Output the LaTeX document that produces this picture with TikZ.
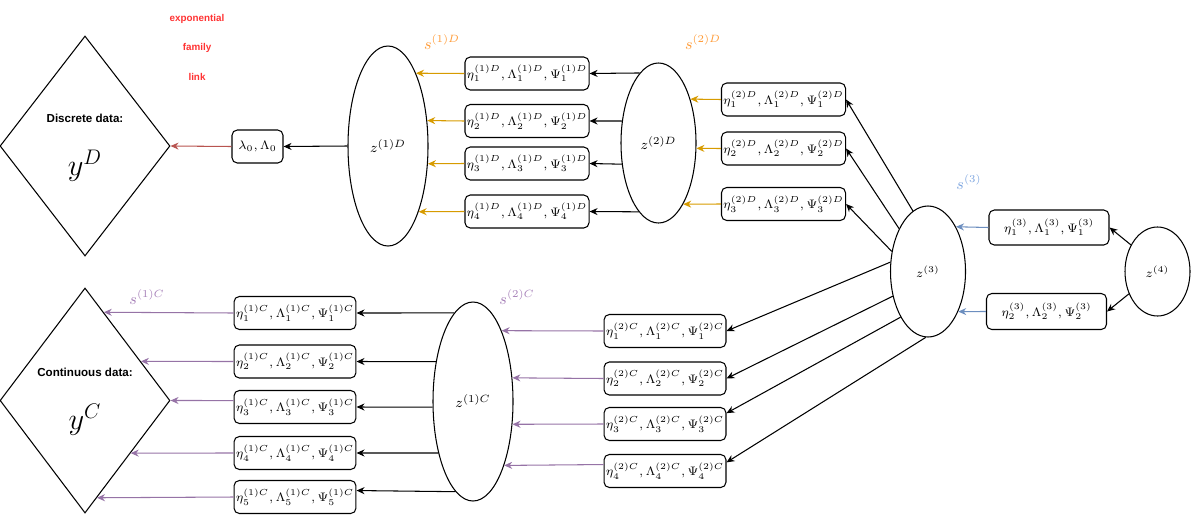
\documentclass[tikz,border=0pt]{standalone}
\usepackage{fontspec}
\newfontfamily\drawfont{Liberation Sans}
\usepackage{tikz}
\usetikzlibrary{
  positioning,
  arrows.meta,
  shapes.geometric
}
\usepackage{amsmath}
\usepackage{xcolor}
\definecolor{linkred}{HTML}{B85450}
\definecolor{linktext}{HTML}{FF3333}
\definecolor{discgold}{HTML}{D79B00}
\definecolor{disclabel}{HTML}{FF9933}
\definecolor{contpurple}{HTML}{9673A6}
\definecolor{contlabel}{HTML}{A680B8}
\definecolor{topblue}{HTML}{6C8EBF}
\definecolor{toplabel}{HTML}{7EA6E0}

\begin{document}
\begin{tikzpicture}[
  box/.style={draw, rounded corners=3pt, minimum height=0.66cm, font=\fontsize{7.4}{9}\selectfont,
              minimum width=2.4cm, inner sep=1pt, line width=0.6pt},
  latent/.style={draw, ellipse, inner sep=0pt, line width=0.6pt},
  data/.style={draw, diamond, inner sep=0pt, minimum width=3.4cm, line width=0.6pt},
  datalbl/.style={font=\drawfont\bfseries\fontsize{6.6}{8}\selectfont},
  linklbl/.style={font=\drawfont\bfseries\fontsize{5.6}{6}\selectfont, text=linktext},
  slbl/.style={font=\small},
  arr/.style={-{Stealth[length=1.6mm, width=1.4mm]}, line width=0.6pt}
]
  \useasboundingbox (0,0) rectangle (23.82,-10.36);

  % Discrete branch
  \node[data, minimum height=4.4cm] (yD) at (1.70,-2.92) {};
  \node[datalbl] (yDtxt) at (1.70,-2.36) {Discrete data:};
  \node[font=\LARGE] (yDsym) at (1.70,-3.32) {$y^D$};

  \node[linklbl] (lnk1) at (3.94,-0.38) {exponential};
  \node[linklbl] (lnk2) at (3.94,-0.96) {family};
  \node[linklbl] (lnk3) at (3.94,-1.54) {link};

  \node[box, minimum width=1.02cm] (lam) at (5.15,-2.93) {$\lambda_0, \Lambda_0$};

  \node[latent, minimum width=1.6cm, minimum height=4cm, font=\footnotesize] (z1D) at (7.76,-2.92) {$z^{(1)D}$};
  \node[slbl, text=disclabel] (s1D) at (8.84,-0.84) {$s^{(1)D}$};

  \node[box] (b1D1) at (10.54,-1.47) {$\eta_1^{(1)D}, \Lambda_1^{(1)D}, \Psi_1^{(1)D}$};
  \node[box] (b1D2) at (10.54,-2.42) {$\eta_2^{(1)D}, \Lambda_2^{(1)D}, \Psi_2^{(1)D}$};
  \node[box] (b1D3) at (10.54,-3.27) {$\eta_3^{(1)D}, \Lambda_3^{(1)D}, \Psi_3^{(1)D}$};
  \node[box] (b1D4) at (10.54,-4.23) {$\eta_4^{(1)D}, \Lambda_4^{(1)D}, \Psi_4^{(1)D}$};

  \node[latent, minimum width=1.5cm, minimum height=3.2cm, font=\footnotesize] (z2D) at (13.17,-2.86) {$z^{(2)D}$};
  \node[slbl, text=disclabel] (s2D) at (14.06,-0.84) {$s^{(2)D}$};

  \node[box] (b2D1) at (15.67,-1.99) {$\eta_1^{(2)D}, \Lambda_1^{(2)D}, \Psi_1^{(2)D}$};
  \node[box] (b2D2) at (15.67,-2.97) {$\eta_2^{(2)D}, \Lambda_2^{(2)D}, \Psi_2^{(2)D}$};
  \node[box] (b2D3) at (15.67,-4.08) {$\eta_3^{(2)D}, \Lambda_3^{(2)D}, \Psi_3^{(2)D}$};

  \draw[arr, linkred] (lam.west) -- (yD.east);
  \draw[arr] (z1D.west) -- (lam.east);

  \draw[arr, discgold] (b1D1.west) -- (z1D.69);
  \draw[arr, discgold] (b1D2.west) -- (z1D.33);
  \draw[arr, discgold] (b1D3.west) -- (z1D.-24);
  \draw[arr, discgold] (b1D4.west) -- (z1D.-65);

  \draw[arr] (z2D.105) -- (b1D1.east);
  \draw[arr] (z2D.149) -- (b1D2.east);
  \draw[arr] (z2D.210) -- (b1D3.east);
  \draw[arr] (z2D.254) -- (b1D4.east);

  \draw[arr, discgold] (b2D1.west) -- (z2D.54);
  \draw[arr, discgold] (b2D2.west) -- (z2D.-8);
  \draw[arr, discgold] (b2D3.west) -- (z2D.-68);

  % Top layers
  \node[latent, minimum width=1.5cm, minimum height=2.62cm, font=\scriptsize] (z3) at (18.56,-5.43) {$z^{(3)}$};
  \node[slbl, text=toplabel] (s3) at (19.38,-3.64) {$s^{(3)}$};

  \node[box, minimum height=0.7cm] (b31) at (20.98,-4.55) {$\eta_1^{(3)}, \Lambda_1^{(3)}, \Psi_1^{(3)}$};
  \node[box, minimum height=0.72cm] (b32) at (20.93,-6.23) {$\eta_2^{(3)}, \Lambda_2^{(3)}, \Psi_2^{(3)}$};

  \node[latent, minimum width=1.3cm, minimum height=1.78cm, font=\scriptsize] (z4) at (23.15,-5.43) {$z^{(4)}$};

  \draw[arr] (z3.104) -- (b2D1.east);
  \draw[arr] (z3.124) -- (b2D2.east);
  \draw[arr] (z3.151) -- (b2D3.east);

  \draw[arr, topblue] (b31.west) -- (z3.58);
  \draw[arr, topblue] (b32.west) -- (z3.-53);

  \draw[arr] (z4.135) -- (b31.east);
  \draw[arr] (z4.218) -- (b32.east);

  % Continuous branch
  \node[data, minimum height=4.5cm] (yC) at (1.70,-8.01) {};
  \node[datalbl] (yCtxt) at (1.70,-7.44) {Continuous data:};
  \node[font=\LARGE] (yCsym) at (1.70,-8.40) {$y^C$};
  \node[slbl, text=contlabel] (s1C) at (2.94,-5.94) {$s^{(1)C}$};

  \node[box] (b1C1) at (5.90,-6.26) {$\eta_1^{(1)C}, \Lambda_1^{(1)C}, \Psi_1^{(1)C}$};
  \node[box] (b1C2) at (5.90,-7.23) {$\eta_2^{(1)C}, \Lambda_2^{(1)C}, \Psi_2^{(1)C}$};
  \node[box] (b1C3) at (5.90,-8.14) {$\eta_3^{(1)C}, \Lambda_3^{(1)C}, \Psi_3^{(1)C}$};
  \node[box] (b1C4) at (5.90,-9.06) {$\eta_4^{(1)C}, \Lambda_4^{(1)C}, \Psi_4^{(1)C}$};
  \node[box] (b1C5) at (5.90,-9.94) {$\eta_5^{(1)C}, \Lambda_5^{(1)C}, \Psi_5^{(1)C}$};

  \node[latent, minimum width=1.6cm, minimum height=3.98cm, font=\footnotesize] (z1C) at (9.46,-8.03) {$z^{(1)C}$};
  \node[slbl, text=contlabel] (s2C) at (10.34,-5.94) {$s^{(2)C}$};

  \node[box] (b2C1) at (13.30,-6.62) {$\eta_1^{(2)C}, \Lambda_1^{(2)C}, \Psi_1^{(2)C}$};
  \node[box] (b2C2) at (13.30,-7.57) {$\eta_2^{(2)C}, \Lambda_2^{(2)C}, \Psi_2^{(2)C}$};
  \node[box] (b2C3) at (13.30,-8.48) {$\eta_3^{(2)C}, \Lambda_3^{(2)C}, \Psi_3^{(2)C}$};
  \node[box] (b2C4) at (13.30,-9.42) {$\eta_4^{(2)C}, \Lambda_4^{(2)C}, \Psi_4^{(2)C}$};

  \draw[arr, contpurple] (b1C1.west) -- (yC.78);
  \draw[arr, contpurple] (b1C2.west) -- (yC.35);
  \draw[arr, contpurple] (b1C3.174) -- (yC.east);
  \draw[arr, contpurple] (b1C4.west) -- (yC.-49);
  \draw[arr, contpurple] (b1C5.west) -- (yC.-83);

  \draw[arr] (z1C.102) -- (b1C1.east);
  \draw[arr] (z1C.133) -- (b1C2.east);
  \draw[arr] (z1C.188) -- (b1C3.east);
  \draw[arr] (z1C.236) -- (b1C4.east);
  \draw[arr] (z1C.259) -- (b1C5.6);

  \draw[arr, contpurple] (b2C1.west) -- (z1C.68);
  \draw[arr, contpurple] (b2C2.west) -- (z1C.31);
  \draw[arr, contpurple] (b2C3.west) -- (z1C.-30);
  \draw[arr, contpurple] (b2C4.174) -- (z1C.-64);

  \draw[arr] (z3.166) -- (b2C1.east);
  \draw[arr] (z3.215) -- (b2C2.east);
  \draw[arr] (z3.239) -- (b2C3.10);
  \draw[arr] (z3.268) -- (b2C4.8);
\end{tikzpicture}
\end{document}
